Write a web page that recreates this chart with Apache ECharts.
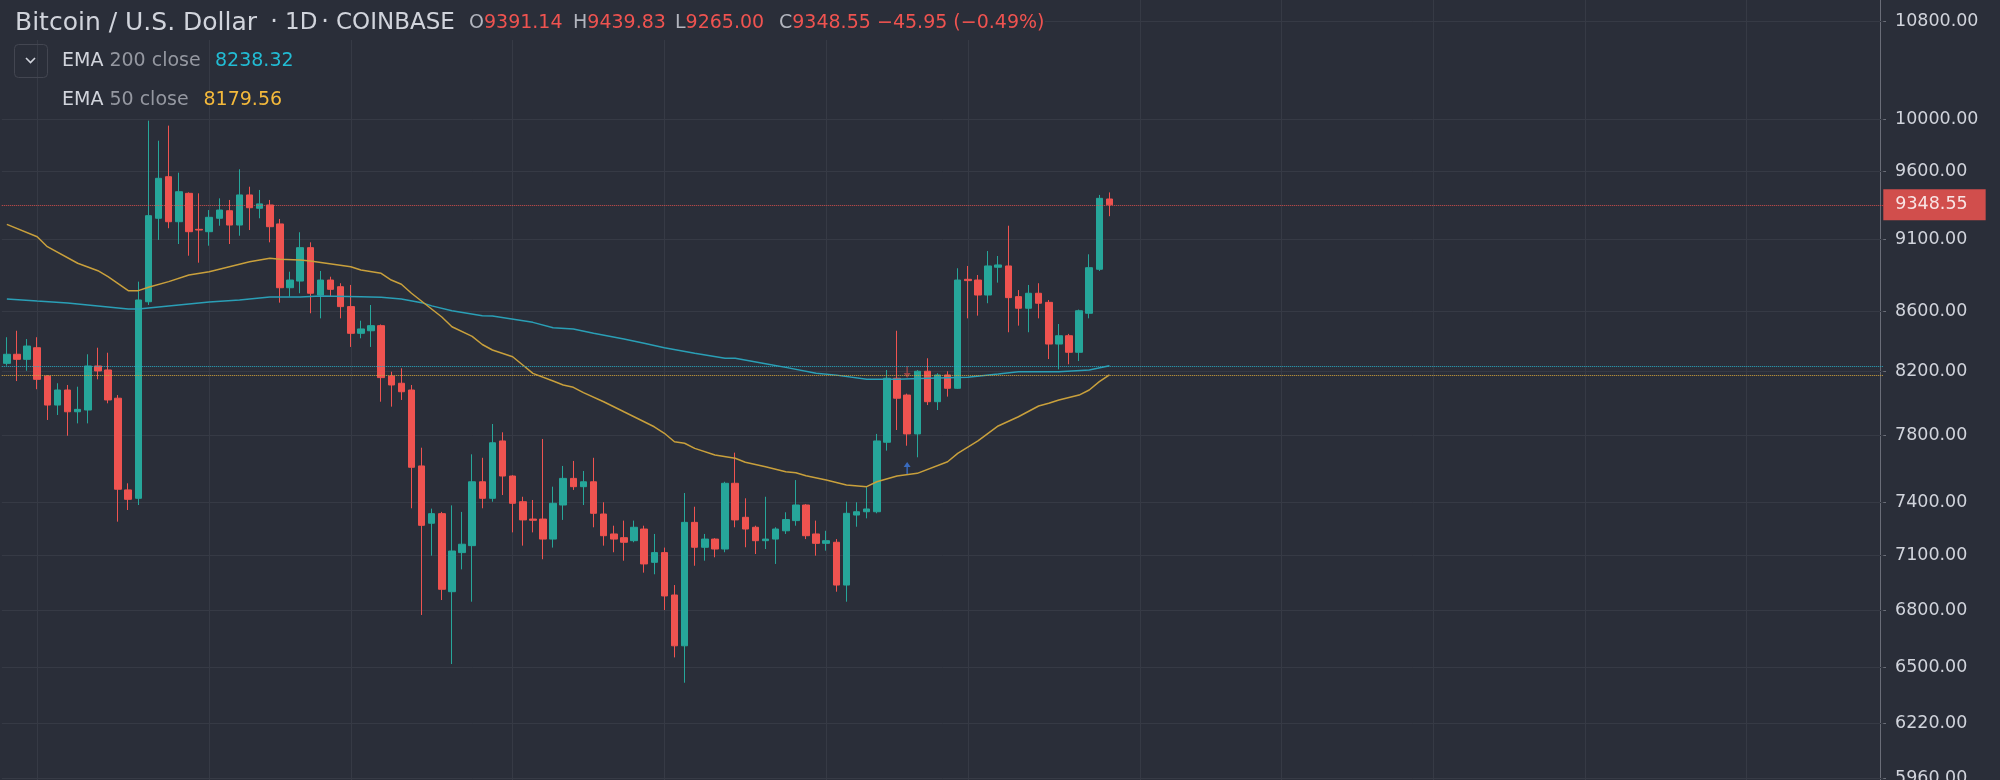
<!DOCTYPE html>
<html>
<head>
<meta charset="utf-8">
<script src="https://cdn.jsdelivr.net/npm/echarts@6/dist/echarts.min.js"></script>
<style>
html,body{margin:0;padding:0;background:#2a2e39;}
#c{width:2000px;height:780px;}
</style>
</head>
<body>
<div id="c"></div>
<script>
// ---------- data ----------
// daily candles: [open, close, low, high]
const candles = [
  [8254,8313,8239,8425],[8313,8280,8140,8468],[8280,8367,8206,8413],[8356,8151,8088,8425],
  [8172,7988,7895,8178],[7988,8083,7926,8126],[8083,7946,7798,8115],[7946,7961,7874,8104],
  [7957,8237,7874,8313],[8237,8205,8151,8356],[8211,8020,7999,8323],[8031,7477,7289,8051],
  [7473,7418,7356,7512],[7424,8675,7385,8801],[8663,9269,8641,9987],[9250,9545,9094,9831],
  [9557,9225,9178,9948],[9225,9445,9065,9587],[9433,9153,8982,9440],[9170,9165,8933,9433],
  [9153,9257,9053,9310],[9250,9310,9196,9396],[9305,9201,9065,9384],[9201,9421,9124,9613],
  [9421,9327,9165,9482],[9323,9355,9250,9458],[9347,9189,9077,9384],[9209,8759,8657,9245],
  [8759,8812,8697,8870],[8805,9039,8721,9149],[9039,8721,8585,9077],[8709,8812,8551,8875],
  [8812,8748,8697,8835],[8766,8630,8551,8790],[8630,8451,8361,8778],[8451,8480,8418,8535],
  [8468,8502,8361,8641],[8502,8162,8009,8510],[8172,8115,7978,8200],[8126,8072,8020,8222],
  [8083,7607,7366,8115],[7615,7268,6774,7725],[7280,7335,7097,7364],[7335,6912,6854,7345],
  [6899,7123,6518,7383],[7114,7161,7021,7345],[7153,7521,6845,7685],[7521,7424,7366,7664],
  [7424,7755,7404,7870],[7766,7555,7443,7819],[7555,7395,7228,7560],[7404,7299,7153,7433],
  [7304,7297,7228,7414],[7304,7190,7077,7778],[7190,7395,7142,7492],[7385,7541,7299,7615],
  [7541,7492,7473,7645],[7492,7521,7385,7585],[7521,7337,7257,7664],[7333,7209,7153,7401],
  [7219,7190,7116,7266],[7198,7172,7069,7295],[7181,7257,7172,7295],[7247,7051,7003,7266],
  [7060,7114,6994,7219],[7114,6876,6800,7142],[6881,6612,6552,6935],[6612,7285,6423,7455],
  [7285,7144,7041,7375],[7144,7190,7069,7219],[7190,7134,7088,7195],[7134,7512,7116,7521],
  [7512,7299,7257,7695],[7314,7247,7144,7424],[7257,7181,7106,7266],[7181,7190,7134,7433],
  [7190,7247,7051,7257],[7237,7301,7219,7343],[7295,7385,7266,7531],[7385,7209,7190,7390],
  [7219,7166,7097,7295],[7166,7181,7125,7237],[7172,6935,6899,7190],[6935,7337,6845,7404],
  [7327,7346,7260,7401],[7346,7362,7308,7489],[7346,7766,7337,7809],[7758,8158,7707,8211],
  [8158,8031,7833,8468],[8051,7809,7737,8060],[7809,8203,7667,8210],[8203,8009,7988,8287],
  [8009,8179,7957,8190],[8179,8094,8041,8203],[8094,8812,8090,8894],[8817,8808,8551,8910],
  [8812,8709,8569,8847],[8709,8910,8653,9015],[8901,8917,8794,8980],[8910,8691,8458,9196],
  [8698,8619,8502,8743],[8619,8721,8458,8778],[8721,8653,8551,8790],[8659,8380,8282,8675],
  [8380,8435,8215,8513],[8435,8326,8248,8447],[8326,8602,8269,8610],[8585,8898,8551,8992],
  [8887,9396,8875,9421],[9391.14,9348.55,9265.00,9439.83]
];

// EMA readings: [bar index, value]
const ema200 = [
  [0,8682],[3,8668],[6,8655],[9,8635],[12,8614],[13,8614],[14,8621],[17,8641],[20,8661],
  [23,8675],[26,8695],[29,8695],[31,8702],[35,8697],[37,8693],[39,8682],[41,8657],[42,8635],
  [44,8602],[47,8569],[48,8567],[52,8524],[54,8488],[56,8480],[58,8451],[61,8413],[63,8385],
  [65,8356],[68,8319],[71,8287],[72,8287],[75,8252],[77,8228],[80,8190],[82,8178],[85,8151],
  [88,8151],[91,8158],[95,8164],[98,8185],[100,8200],[104,8200],[107,8211],[109,8238.32]
];
const ema50 = [
  [0,9206],[3,9117],[4,9046],[7,8929],[9,8877],[10,8835],[12,8739],[13,8739],[14,8762],
  [16,8801],[18,8847],[20,8870],[22,8905],[24,8940],[26,8964],[27,8957],[29,8952],[30,8945],
  [34,8905],[35,8882],[37,8859],[38,8812],[39,8783],[40,8721],[43,8560],[44,8495],[46,8431],
  [47,8377],[48,8341],[50,8297],[51,8243],[52,8189],[54,8140],[55,8115],[56,8100],[57,8066],
  [59,8009],[61,7946],[62,7915],[64,7853],[65,7813],[66,7761],[67,7752],[68,7721],[70,7681],
  [72,7661],[73,7637],[75,7610],[77,7581],[78,7575],[79,7557],[81,7531],[83,7502],[85,7492],
  [86,7521],[88,7555],[90,7571],[93,7640],[94,7691],[96,7767],[98,7858],[100,7915],[102,7982],
  [103,7999],[104,8020],[106,8051],[107,8083],[108,8136],[109,8179.56]
];

const yTicks = [5960, 6220, 6500, 6800, 7100, 7400, 7800, 8200, 8600, 9100, 9600, 10000, 10800];
const gridDays = [3, 20, 34, 50, 65, 81, 95, 112, 126, 141, 156, 172];
const lastPrice = 9348.55;
const ema200Last = 8238.32;
const ema50Last = 8179.56;
const changeAbs = -45.95;
const changePct = -0.49;
const signalBar = 89;
const sellMark = 8198;
const buyMark = 7603;
const slotCount = 186;
const categories = Array.from({length: slotCount}, (_, i) => 'D' + (i + 1));

// ---------- chart ----------
const FONT = 'DejaVu Sans';
const BG = '#2a2e39';
const GRID = '#363a45';
const TXT = '#d1d4dc';
const UP = '#26a69a';
const DOWN = '#ef5350';

const chart = echarts.init(document.getElementById('c'), null, {renderer: 'canvas'});

const last = candles[candles.length - 1];
const fmt = v => v.toFixed(2);
const minus = v => (v < 0 ? '\u2212' : '') + Math.abs(v).toFixed(2);

const gridLines = [
  ...yTicks.map(v => ({
    yAxis: v,
    label: {show: true, position: 'end', distance: 11.7, formatter: fmt(v),
            color: TXT, fontSize: 17.5, fontFamily: FONT}
  })),
  ...gridDays.map(d => ({xAxis: categories[d], label: {show: false}}))
];

const option = {
  backgroundColor: BG,
  animation: false,
  grid: {left: 1.8, right: 116.7, top: 0, bottom: 0},
  xAxis: {
    type: 'category', data: categories, boundaryGap: true,
    axisLine: {show: false}, axisTick: {show: false}, axisLabel: {show: false},
    splitLine: {show: false}
  },
  yAxis: {
    type: 'log', logBase: 10, min: 5950.6, max: 10979.6, position: 'right', offset: -3.3,
    axisLine: {show: true, lineStyle: {color: '#6a6d78', width: 1}},
    axisTick: {show: true, customValues: yTicks, length: 6, lineStyle: {color: '#6a6d78'}},
    axisLabel: {show: false},
    splitLine: {show: false}
  },
  series: [
    {
      type: 'candlestick', name: 'BTCUSD', data: candles, barWidth: 7, z: 3, silent: true,
      itemStyle: {color: UP, color0: DOWN, borderColor: UP, borderColor0: DOWN, borderWidth: 1},
      markLine: {
        silent: true, z: 1, animation: false, symbol: ['none', 'none'],
        lineStyle: {color: GRID, width: 1, type: 'solid'},
        label: {show: false},
        emphasis: {disabled: true},
        data: gridLines
      }
    },
    {
      type: 'line', name: 'EMA 200 close', data: ema200.map(p => [categories[p[0]], p[1]]),
      showSymbol: false, symbol: 'none', z: 4, silent: true,
      lineStyle: {color: '#2a9fb6', width: 1.5},
      markLine: {
        silent: true, animation: false, symbol: ['none', 'none'], label: {show: false},
        lineStyle: {color: '#2aa9c2', type: 'dotted', width: 1},
        data: [{yAxis: ema200Last}]
      }
    },
    {
      type: 'line', name: 'EMA 50 close', data: ema50.map(p => [categories[p[0]], p[1]]),
      showSymbol: false, symbol: 'none', z: 4, silent: true,
      lineStyle: {color: '#c9a03c', width: 1.5},
      markLine: {
        silent: true, animation: false, symbol: ['none', 'none'], label: {show: false},
        lineStyle: {color: '#d2a33c', type: 'dotted', width: 1},
        data: [{yAxis: ema50Last}]
      }
    },
    {
      type: 'scatter', name: 'signals', z: 4, silent: true,
      data: [
        {value: [categories[signalBar], sellMark], symbol: 'path://M4,0 L6,0 L6,7 L10,7 L5,12 L0,7 L4,7 Z',
         itemStyle: {color: DOWN, opacity: 0.55}},
        {value: [categories[signalBar], buyMark], symbol: 'path://M5,0 L10,5 L6,5 L6,12 L4,12 L4,5 L0,5 Z',
         itemStyle: {color: '#3d7be0', opacity: 0.8}}
      ],
      symbolSize: [7, 12],
      markLine: {
        silent: true, animation: false, symbol: ['none', 'none'],
        lineStyle: {color: DOWN, type: 'dotted', width: 1, opacity: 0.85},
        data: [{
          yAxis: lastPrice,
          label: {show: true, position: 'end', distance: 0, formatter: fmt(lastPrice),
                  color: '#ffffff', backgroundColor: DOWN, padding: [7, 18, 6, 12],
                  fontSize: 17.5, fontFamily: FONT}
        }]
      }
    }
  ],
  graphic: [
    {type: 'rect', z: 50, shape: {x: 0, y: 0, width: 1045, height: 40}, style: {fill: BG}},
    {type: 'text', z: 60, x: 15, y: 23, style: {text: 'Bitcoin / U.S. Dollar', fill: TXT, fontSize: 25, fontFamily: FONT, verticalAlign: 'middle'}},
    {type: 'text', z: 60, x: 274, y: 23, style: {text: '\u00b7', fill: TXT, fontSize: 24, fontFamily: FONT, verticalAlign: 'middle', align: 'center'}},
    {type: 'text', z: 60, x: 285, y: 23, style: {text: '1D', fill: TXT, fontSize: 23, fontFamily: FONT, verticalAlign: 'middle'}},
    {type: 'text', z: 60, x: 325, y: 23, style: {text: '\u00b7', fill: TXT, fontSize: 24, fontFamily: FONT, verticalAlign: 'middle', align: 'center'}},
    {type: 'text', z: 60, x: 336, y: 23, style: {text: 'COINBASE', fill: TXT, fontSize: 23, fontFamily: FONT, verticalAlign: 'middle'}},
    ...[['O', last[0], 469], ['H', last[3], 573], ['L', last[2], 675], ['C', last[1], 779]].map(it => ({
      type: 'text', z: 60, x: it[2], y: 23,
      style: {text: '{l|' + it[0] + '}{v|' + fmt(it[1]) + '}', fontSize: 19, fontFamily: FONT, verticalAlign: 'middle',
              rich: {l: {fill: '#b2b5be', fontSize: 19, fontFamily: FONT}, v: {fill: DOWN, fontSize: 19, fontFamily: FONT}}}
    })),
    {type: 'text', z: 60, x: 877, y: 23, style: {text: minus(changeAbs) + ' (' + minus(changePct) + '%)', fill: DOWN, fontSize: 19, fontFamily: FONT, verticalAlign: 'middle'}},
    {type: 'rect', z: 60, shape: {x: 14.5, y: 44.5, width: 33, height: 33, r: 4}, style: {fill: 'none', stroke: '#434651', lineWidth: 1}},
    {type: 'polyline', z: 61, shape: {points: [[26, 58], [30.5, 62.5], [35, 58]]}, style: {stroke: TXT, lineWidth: 1.6, fill: 'none'}},
    {type: 'text', z: 60, x: 62, y: 61,
     style: {text: '{a|EMA} {b|200 close}', fontSize: 19, fontFamily: FONT, verticalAlign: 'middle',
             rich: {a: {fill: TXT, fontSize: 19, fontFamily: FONT}, b: {fill: '#9598a1', fontSize: 19, fontFamily: FONT}}}},
    {type: 'text', z: 60, x: 215, y: 61, style: {text: fmt(ema200Last), fill: '#22bcd4', fontSize: 19, fontFamily: FONT, verticalAlign: 'middle'}},
    {type: 'text', z: 60, x: 62, y: 100,
     style: {text: '{a|EMA} {b|50 close}', fontSize: 19, fontFamily: FONT, verticalAlign: 'middle',
             rich: {a: {fill: TXT, fontSize: 19, fontFamily: FONT}, b: {fill: '#9598a1', fontSize: 19, fontFamily: FONT}}}},
    {type: 'text', z: 60, x: 203.5, y: 100, style: {text: fmt(ema50Last), fill: '#f4b93b', fontSize: 19, fontFamily: FONT, verticalAlign: 'middle'}}
  ]
};

chart.setOption(option);
</script>
</body>
</html>
